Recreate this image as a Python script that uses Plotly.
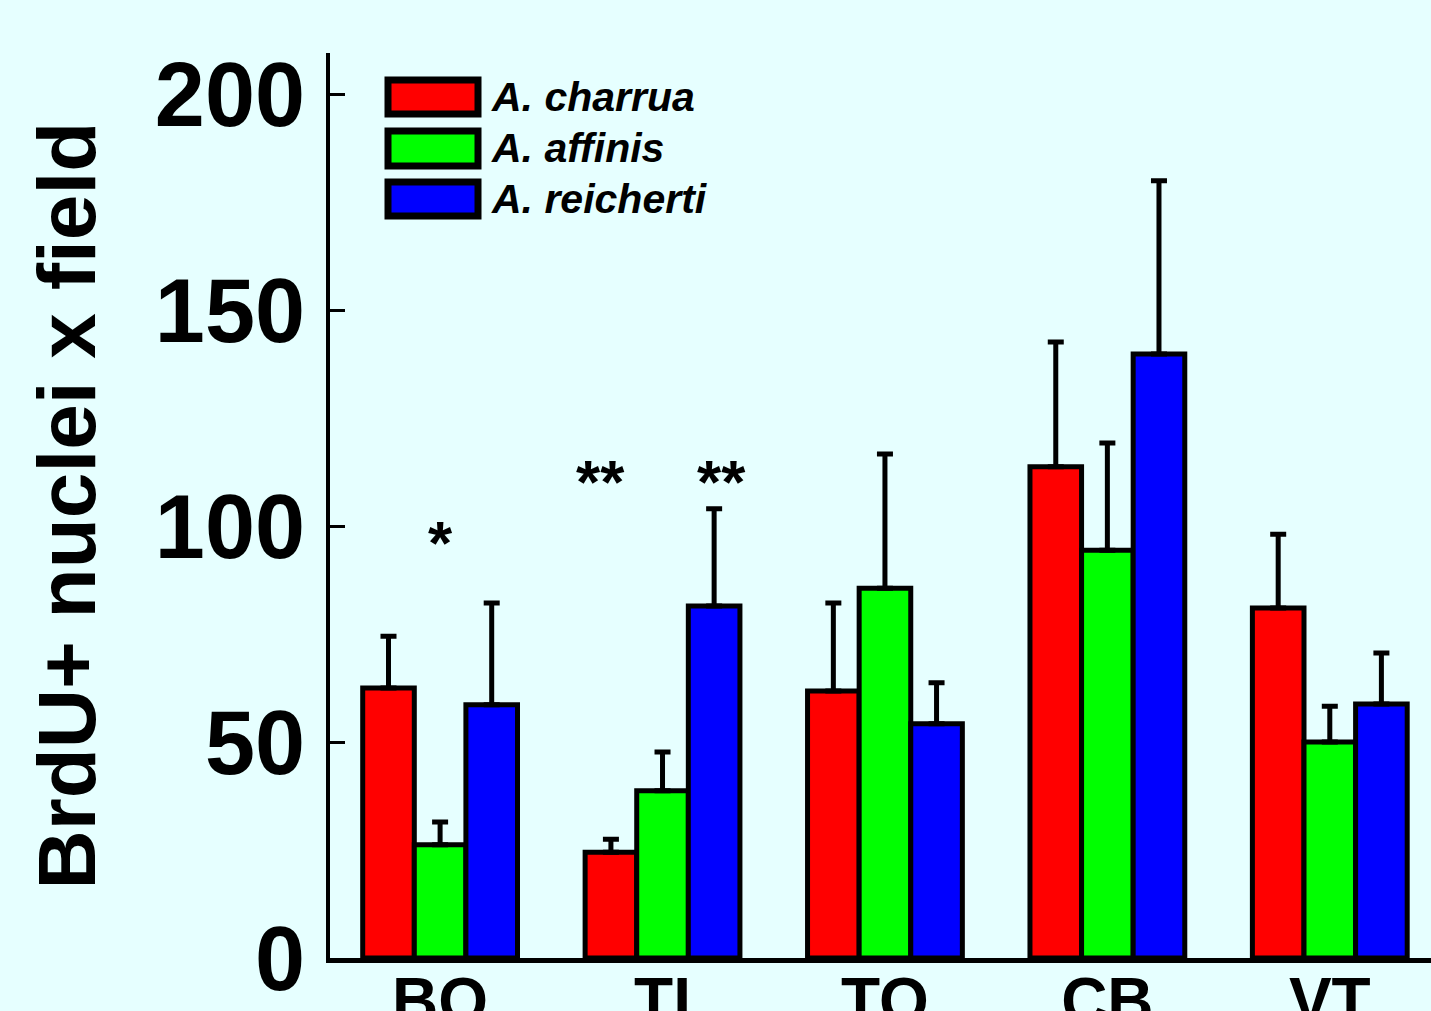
import plotly.graph_objects as go

categories = ["BO", "TI", "TO", "CB", "VT"]
species = ["A. charrua", "A. affinis", "A. reicherti"]
colors = ["#FF0000", "#00FF00", "#0000FF"]

charrua_mean = [62.5, 24.5, 61.8, 113.7, 81.0]
charrua_err = [12.0, 3.0, 20.4, 28.9, 17.1]
affinis_mean = [26.2, 38.7, 85.6, 94.4, 50.0]
affinis_err = [5.3, 9.0, 31.1, 24.8, 8.3]
reicherti_mean = [58.6, 81.5, 54.2, 139.8, 58.8]
reicherti_err = [23.6, 22.5, 9.5, 40.1, 11.8]

means = [charrua_mean, affinis_mean, reicherti_mean]
errs = [charrua_err, affinis_err, reicherti_err]

# significance marks: (category position, y value, text)
sig_x = [0.0, 0.72, 1.265]
sig_y = [96.1, 110.3, 110.3]
sig_text = ["*", "**", "**"]

bg = "#E6FFFF"
font_family = "Liberation Sans, Arial, sans-serif"

fig = go.Figure()
for name, col, m, e in zip(species, colors, means, errs):
    fig.add_trace(go.Bar(
        x=list(range(len(categories))), y=m, name=name,
        marker=dict(color=col, line=dict(color="black", width=5)),
        error_y=dict(type="data", symmetric=False, array=e,
                     arrayminus=[0] * len(e), color="black",
                     thickness=5, width=8),
        showlegend=False, hoverinfo="skip",
    ))

# plot area in pixels: x 330..1431, y 53..958
L, R, T, B = 330, 1431, 53, 958
def px(xp):
    return (xp - L) / (R - L)
def py(yp):
    return (B - yp) / (B - T)

shapes = []
annotations = []
rows = [(77, 117), (128, 169), (179, 219)]
for (y0, y1), col, name in zip(rows, colors, species):
    shapes.append(dict(type="rect", xref="paper", yref="paper",
                       x0=px(388), x1=px(478), y0=py(y1 - 3), y1=py(y0 + 3),
                       fillcolor=col, line=dict(color="black", width=7)))
    annotations.append(dict(xref="paper", yref="paper", x=px(489),
                            y=py((y0 + y1) / 2), xanchor="left", yanchor="middle",
                            text="<b><i>%s</i></b>" % name, showarrow=False,
                            font=dict(family=font_family, size=41, color="black")))

for sx, sy, st in zip(sig_x, sig_y, sig_text):
    annotations.append(dict(xref="x", yref="y", x=sx, y=sy, text="<b>%s</b>" % st,
                            showarrow=False, xanchor="center", yanchor="middle",
                            font=dict(family=font_family, size=62, color="black")))

annotations.append(dict(xref="paper", yref="paper", x=px(66), y=0.5,
                        text="<b>BrdU+ nuclei x field</b>", textangle=-90,
                        showarrow=False, xanchor="center", yanchor="middle",
                        font=dict(family=font_family, size=82, color="black")))

fig.update_layout(
    width=1431, height=1011,
    margin=dict(l=L, r=0, t=T, b=1011 - B, pad=0),
    paper_bgcolor=bg, plot_bgcolor=bg,
    barmode="group", bargap=0.304, bargroupgap=0,
    shapes=shapes, annotations=annotations,
    font=dict(family=font_family, color="black"),
)
fig.update_xaxes(
    range=[-0.495, 4.455], tickmode="array",
    tickvals=list(range(len(categories))), ticktext=categories,
    showline=True, linecolor="black", linewidth=5, ticks="",
    ticklabelstandoff=-17,
    showgrid=False, zeroline=False, automargin=False,
    tickfont=dict(family=font_family, size=64, color="black", weight="bold"),
)
fig.update_yaxes(
    range=[0, 209.5], dtick=50, tick0=0,
    showline=True, linecolor="black", linewidth=4,
    ticks="inside", ticklen=15, tickwidth=3, tickcolor="black",
    ticklabelstandoff=3,
    showgrid=False, zeroline=False, automargin=False,
    tickfont=dict(family=font_family, size=90, color="black", weight="bold"),
)

fig.write_html("out.html",
               config={"displayModeBar": False},
               post_script="document.body.style.margin='0';"
                           "document.body.style.padding='0';"
                           "document.body.style.background='%s';" % bg)
